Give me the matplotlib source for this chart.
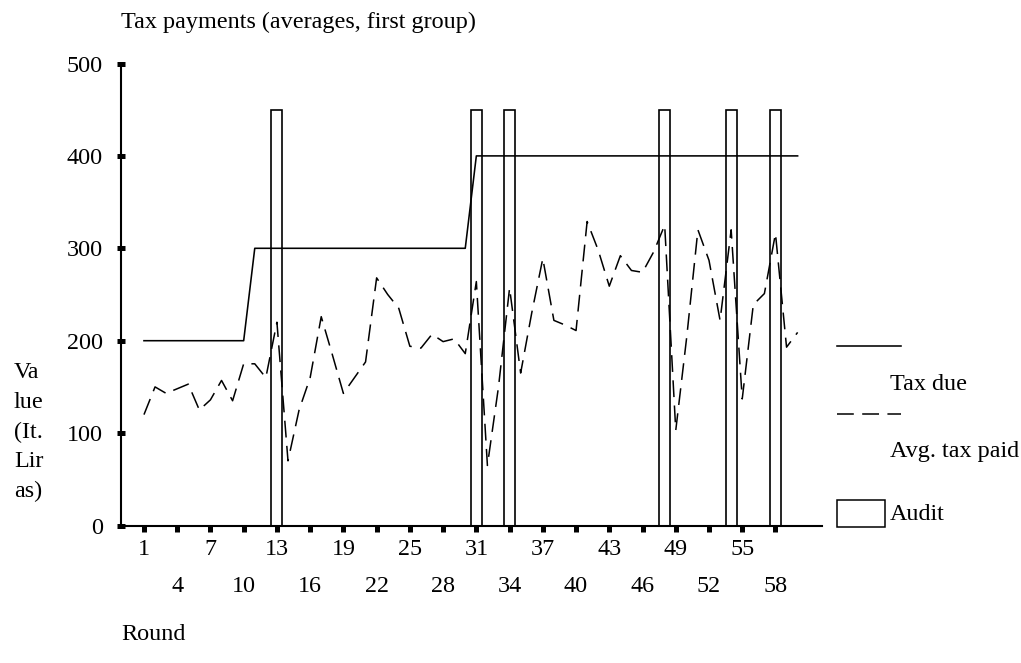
import matplotlib
matplotlib.use("Agg")
import matplotlib.pyplot as plt
from matplotlib.lines import Line2D
from matplotlib.patches import Rectangle

plt.rcParams['font.family'] = ['Liberation Serif', 'DejaVu Serif']

rounds = list(range(1, 61))
tax_due = [200, 200, 200, 200, 200, 200, 200, 200, 200, 200,
           300, 300, 300, 300, 300, 300, 300, 300, 300, 300,
           300, 300, 300, 300, 300, 300, 300, 300, 300, 300,
           400, 400, 400, 400, 400, 400, 400, 400, 400, 400,
           400, 400, 400, 400, 400, 400, 400, 400, 400, 400,
           400, 400, 400, 400, 400, 400, 400, 400, 400, 400]
avg_tax_paid = [120, 150, 143, 148, 153, 125, 136, 157, 135, 175,
                175, 160, 220, 70, 125, 160, 226, 185, 143, 160,
                177, 268, 250, 235, 194, 192, 207, 199, 202, 186,
                264, 65, 150, 257, 165, 230, 289, 222, 217, 211,
                329, 298, 259, 292, 276, 274, 296, 325, 103, 205,
                320, 287, 222, 320, 137, 239, 251, 316, 193, 209]
audit_rounds = [13, 31, 34, 48, 54, 58]
audit_height = 450
yticks = [0, 100, 200, 300, 400, 500]
xticks_row1 = [1, 7, 13, 19, 25, 31, 37, 43, 49, 55]
xticks_row2 = [4, 10, 16, 22, 28, 34, 40, 46, 52, 58]

FS = 17.4
DASH = (11, 5.5)
W, H = 1021, 663
fig = plt.figure(figsize=(W / 100, H / 100), dpi=100)
ax = fig.add_axes([120.7 / W, 1 - 525.5 / H, (822 - 120.7) / W, (525.5 - 63.5) / H])

# audits
for r in audit_rounds:
    ax.bar(r, audit_height, width=1.0, fill=False, edgecolor='black', linewidth=1.2)

ax.plot(rounds, tax_due, color='black', linewidth=1.15)
ax.plot(rounds, avg_tax_paid, color='black', linewidth=1.1, dashes=DASH)

ax.set_xlim(-1.10, 62.2)
ax.set_ylim(0, 500)

for s in ['top', 'right']:
    ax.spines[s].set_visible(False)
ax.spines['left'].set_linewidth(1.5)
ax.spines['bottom'].set_linewidth(1.5)

ax.set_yticks(yticks)
ax.set_yticklabels([str(v) for v in yticks], fontsize=FS)
ax.tick_params(axis='y', direction='inout', length=6, width=3.6, pad=10)

ax.set_xticks(xticks_row1)
ax.set_xticklabels([str(v) for v in xticks_row1], fontsize=FS)
ax.set_xticks(xticks_row2, minor=True)
ax.set_xticklabels([str(v) for v in xticks_row2], minor=True, fontsize=FS)
ax.tick_params(axis='x', which='major', direction='out', length=4.5, width=3.6, pad=5)
ax.tick_params(axis='x', which='minor', direction='out', length=4.5, width=3.6, pad=32)

# texts
fig.text(121 / W, 1 - 22 / H, 'Tax payments (averages, first group)', fontsize=FS,
         ha='left', va='center')
fig.text(121 / W, 1 - 634 / H, 'Round', fontsize=FS, ha='left', va='center')
for i, part in enumerate(['Va', 'lue', '(It.', 'Lir', 'as)']):
    fig.text(14 / W, 1 - (373 + 29.5 * i) / H, part, fontsize=FS, ha='left', va='center')

# legend (manual)
lax = fig.add_axes([0, 0, 1, 1])
lax.set_xlim(0, W)
lax.set_ylim(H, 0)
lax.axis('off')
lax.patch.set_alpha(0)
lax.add_line(Line2D([837, 901], [346, 346], color='black', linewidth=1.15))
lax.text(890, 385, 'Tax due', fontsize=FS, ha='left', va='center')
lax.add_line(Line2D([837, 901], [414, 414], color='black', linewidth=1.1, dashes=DASH))
lax.text(890, 451, 'Avg. tax paid', fontsize=FS, ha='left', va='center')
lax.add_patch(Rectangle((837, 500), 48, 27, fill=False, edgecolor='black', linewidth=1.1))
lax.text(890, 514, 'Audit', fontsize=FS, ha='left', va='center')

fig.savefig('out.png', dpi=100, facecolor='white')
